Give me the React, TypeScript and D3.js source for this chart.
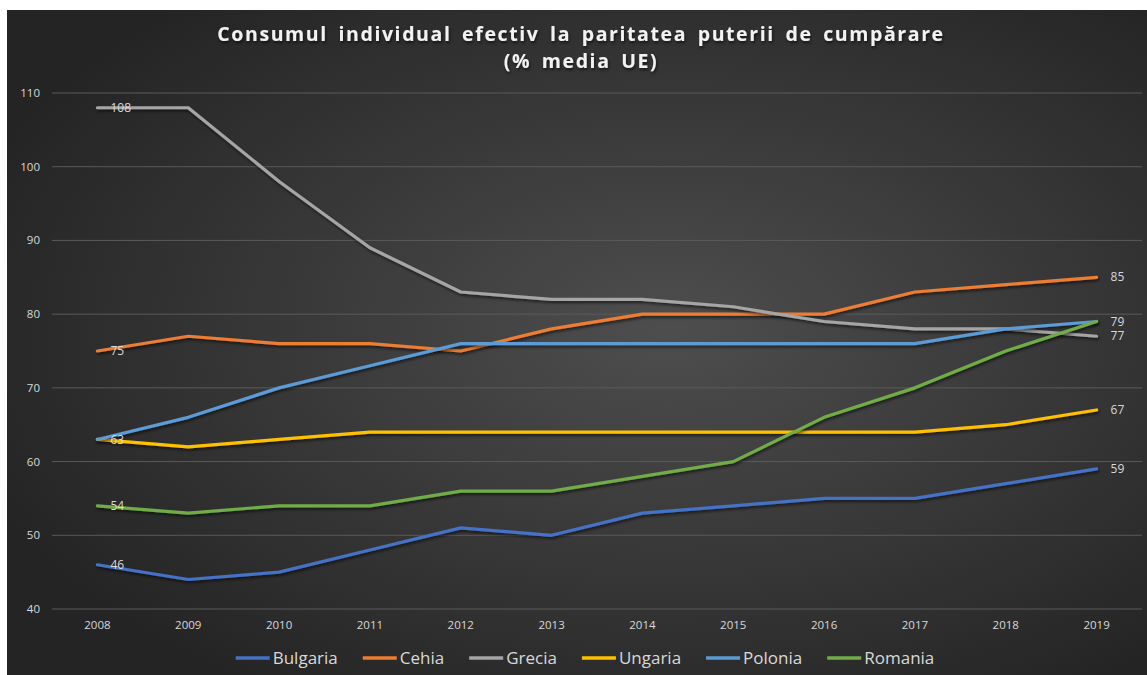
import React, { useMemo } from "react";
import * as d3 from "d3";

const years = ["2008", "2009", "2010", "2011", "2012", "2013", "2014", "2015", "2016", "2017", "2018", "2019"];
const bulgaria = [46, 44, 45, 48, 51, 50, 53, 54, 55, 55, 57, 59];
const cehia = [75, 77, 76, 76, 75, 78, 80, 80, 80, 83, 84, 85];
const grecia = [108, 108, 98, 89, 83, 82, 82, 81, 79, 78, 78, 77];
const ungaria = [63, 62, 63, 64, 64, 64, 64, 64, 64, 64, 65, 67];
const polonia = [63, 66, 70, 73, 76, 76, 76, 76, 76, 76, 78, 79];
const romania = [54, 53, 54, 54, 56, 56, 58, 60, 66, 70, 75, 79];
const seriesNames = ["Bulgaria", "Cehia", "Grecia", "Ungaria", "Polonia", "Romania"];
const seriesColors = ["#4472C4", "#ED7D31", "#A5A5A5", "#FFC000", "#5B9BD5", "#70AD47"];
const yTicks = [40, 50, 60, 70, 80, 90, 100, 110];
const titleLines = ["Consumul individual efectiv la paritatea puterii de cumpărare", "(% media UE)"];

const W = 1147;
const H = 675;
const FONT = "'Open Sans', 'Noto Sans', sans-serif";

const measure = (text: string, font: string) => {
  const ctx = document.createElement("canvas").getContext("2d");
  if (!ctx) return text.length * 8;
  ctx.font = font;
  return ctx.measureText(text).width;
};

const App: React.FC = () => {
  const series = [bulgaria, cehia, grecia, ungaria, polonia, romania];
  const margin = { top: 93, right: 5, bottom: 66, left: 52 };

  const x = d3.scalePoint<string>().domain(years).range([margin.left, W - margin.right]).padding(0.5);
  const y = d3.scaleLinear().domain([40, 110]).range([H - margin.bottom, margin.top]);

  const line = d3
    .line<number>()
    .x((_, i) => x(years[i]) as number)
    .y((d) => y(d));

  // data labels at first and last year, one per distinct value
  const firstVals = Array.from(new Set(series.map((s) => s[0])));
  const lastVals = Array.from(new Set(series.map((s) => s[s.length - 1])));

  // legend layout
  const legendFont = `17px ${FONT}`;
  const legend = useMemo(() => {
    const sample = 34;
    const gap = 3;
    const spacing = 25;
    const widths = seriesNames.map((n) => measure(n, legendFont));
    const total = widths.reduce((a, w) => a + sample + gap + w, 0) + spacing * (seriesNames.length - 1);
    let cx = 585 - total / 2;
    return seriesNames.map((n, i) => {
      const item = { name: n, x: cx, color: seriesColors[i] };
      cx += sample + gap + widths[i] + spacing;
      return item;
    });
  }, []);

  return (
    <div style={{ position: "absolute", left: 0, top: 0 }}>
      <svg width={W} height={H} style={{ display: "block" }}>
        <defs>
          <radialGradient id="bg" cx="58%" cy="48%" r="65%">
            <stop offset="0%" stopColor="#4e4e4e" />
            <stop offset="100%" stopColor="#242424" />
          </radialGradient>
          <filter id="shadow" x="-5%" y="-20%" width="110%" height="140%">
            <feDropShadow dx="1" dy="2" stdDeviation="1.5" floodColor="#000" floodOpacity="0.6" />
          </filter>
        </defs>
        <rect width={W} height={H} fill="#ffffff" />
        <rect x={7} y={10} width={W - 7} height={H - 10} fill="url(#bg)" />

        {/* title */}
        {titleLines.map((t, i) => (
          <text
            key={t}
            x={581}
            y={41 + i * 27}
            textAnchor="middle"
            fill="#f2f2f2"
            fontFamily={FONT}
            fontWeight="bold"
            fontSize={19.5}
            letterSpacing={1.6}
            wordSpacing={4}
            filter="url(#shadow)"
          >
            {t}
          </text>
        ))}

        {/* gridlines + y labels */}
        {yTicks.map((t) => (
          <g key={t}>
            <line x1={margin.left} x2={W - margin.right} y1={y(t)} y2={y(t)} stroke="#5a5a5a" strokeWidth={1} />
            <text x={40} y={y(t)} dy="0.35em" textAnchor="end" fill="#d9d9d9" fontFamily={FONT} fontSize={11.5}>
              {t}
            </text>
          </g>
        ))}

        {/* x labels */}
        {years.map((yr) => (
          <text key={yr} x={x(yr)} y={629} textAnchor="middle" fill="#d9d9d9" fontFamily={FONT} fontSize={11.5}>
            {yr}
          </text>
        ))}

        {/* lines */}
        {series.map((s, i) => (
          <path
            key={seriesNames[i]}
            d={line(s) || ""}
            fill="none"
            stroke={seriesColors[i]}
            strokeWidth={3.2}
            strokeLinejoin="round"
            strokeLinecap="round"
            filter="url(#shadow)"
          />
        ))}

        {/* data labels */}
        {firstVals.map((v) => (
          <text key={"f" + v} x={(x(years[0]) as number) + 13} y={y(v)} dy="0.35em" fill="#d9d9d9" fontFamily={FONT} fontSize={12}>
            {v}
          </text>
        ))}
        {lastVals.map((v) => (
          <text
            key={"l" + v}
            x={(x(years[years.length - 1]) as number) + 14}
            y={y(v)}
            dy="0.35em"
            fill="#d9d9d9"
            fontFamily={FONT}
            fontSize={12}
          >
            {v}
          </text>
        ))}

        {/* legend */}
        {legend.map((it) => (
          <g key={it.name} transform={`translate(${it.x},658)`}>
            <line x1={0} x2={34} y1={0} y2={0} stroke={it.color} strokeWidth={3.5} />
            <text x={37} y={0} dy="0.35em" fill="#d9d9d9" fontFamily={FONT} fontSize={17}>
              {it.name}
            </text>
          </g>
        ))}
      </svg>
    </div>
  );
};

export default App;
